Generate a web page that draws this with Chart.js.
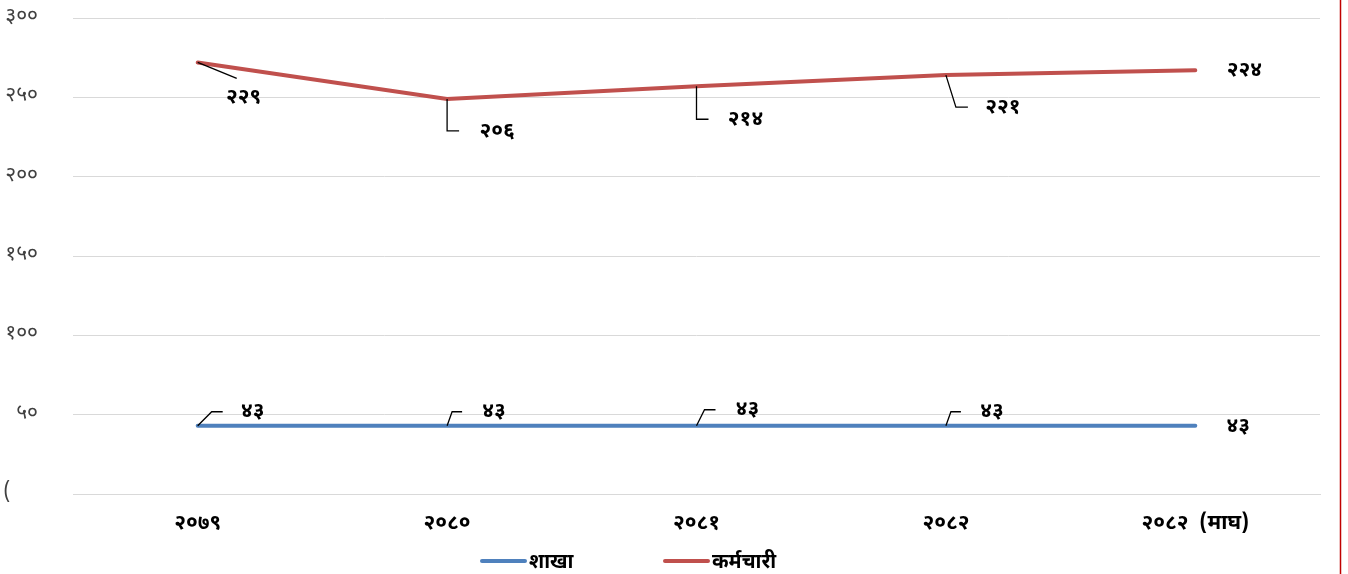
<!DOCTYPE html>
<html>
<head>
<meta charset="utf-8">
<script src="https://cdn.jsdelivr.net/npm/chart.js@4.4.1/dist/chart.umd.min.js"></script>
<style>
  html, body { margin: 0; padding: 0; background: #ffffff; }
  #wrap { width: 1348px; height: 574px; position: relative; }
</style>
</head>
<body>
<div id="wrap"><canvas id="chart" width="1348" height="574"></canvas></div>
<script>
// Fiscal years
const categories = ['२०७९', '२०८०', '२०८१', '२०८२', '२०८२  (माघ)'];
// Number of branches
const branches = [43, 43, 43, 43, 43];
// Number of staff
const staff = [229, 206, 214, 221, 224];
// Value-axis tick labels (0..300 step 50)
const yTickValues = [0, 50, 100, 150, 200, 250, 300];
const yTickLabels = ['(', '५०', '१००', '१५०', '२००', '२५०', '३००'];
const seriesNames = ['शाखा', 'कर्मचारी'];

const BLUE = '#4f81bd';
const RED = '#c0504d';
const DEVA = "'Noto Sans Devanagari', 'Lohit Devanagari', 'Noto Sans', sans-serif";

function toDeva(n) {
  const d = '०१२३४५६७८९';
  return String(n).replace(/[0-9]/g, c => d[+c]);
}

// Label placement and leader paths, relative to each point (px)
const labelLayout = [
  [ // शाखा
    { dx: 55, dy: -13, path: [[0, 0], [14, -14], [25, -14]] },
    { dx: 47, dy: -13, path: [[0, 0], [5, -14], [15, -14]] },
    { dx: 51, dy: -15, path: [[0, 0], [8, -16], [19, -16]] },
    { dx: 46, dy: -13, path: [[0, 0], [5, -14], [15, -14]] },
    { dx: 43, dy: 2, path: null }
  ],
  [ // कर्मचारी
    { dx: 46, dy: 37, path: [[0, 0], [39, 16]] },
    { dx: 50, dy: 34, path: [[0, 0], [0, 32], [12, 32]] },
    { dx: 49, dy: 35, path: [[0, 0], [0, 33], [12, 33]] },
    { dx: 57, dy: 34, path: [[0, 0], [10, 32], [22, 32]] },
    { dx: 49, dy: 2, path: null }
  ]
];

const valueLabels = {
  id: 'valueLabels',
  afterDatasetsDraw(chart) {
    const ctx = chart.ctx;
    ctx.save();
    chart.data.datasets.forEach((ds, di) => {
      const meta = chart.getDatasetMeta(di);
      meta.data.forEach((pt, i) => {
        const lay = labelLayout[di][i];
        if (lay.path) {
          ctx.beginPath();
          ctx.strokeStyle = '#000000';
          ctx.lineWidth = 1.3;
          lay.path.forEach(([px, py], k) => {
            if (k === 0) ctx.moveTo(pt.x + px, pt.y + py);
            else ctx.lineTo(pt.x + px, pt.y + py);
          });
          ctx.stroke();
        }
        ctx.fillStyle = '#000000';
        ctx.font = "bold 21px " + DEVA;
        ctx.textAlign = 'center';
        ctx.textBaseline = 'middle';
        ctx.fillText(toDeva(ds.data[i]), pt.x + lay.dx, pt.y + lay.dy);
      });
    });
    ctx.restore();
  }
};

// Legend drawn beneath the plot
const bottomLegend = {
  id: 'bottomLegend',
  afterDraw(chart) {
    const ctx = chart.ctx;
    const y = 561;
    const items = [
      { x: 482, color: BLUE, text: seriesNames[0] },
      { x: 665, color: RED, text: seriesNames[1] }
    ];
    ctx.save();
    items.forEach(it => {
      ctx.beginPath();
      ctx.strokeStyle = it.color;
      ctx.lineWidth = 4;
      ctx.lineCap = 'round';
      ctx.moveTo(it.x, y);
      ctx.lineTo(it.x + 43, y);
      ctx.stroke();
      ctx.fillStyle = '#000000';
      ctx.font = "bold 20px " + DEVA;
      ctx.textAlign = 'left';
      ctx.textBaseline = 'middle';
      ctx.fillText(it.text, it.x + 47, y + 3);
    });
    // frame edge on the right
    ctx.beginPath();
    ctx.strokeStyle = '#c00000';
    ctx.lineWidth = 1.5;
    ctx.moveTo(1340.5, 0);
    ctx.lineTo(1340.5, 574);
    ctx.stroke();
    ctx.restore();
  }
};

new Chart(document.getElementById('chart'), {
  type: 'line',
  data: {
    labels: categories,
    datasets: [
      { label: seriesNames[0], data: branches, borderColor: BLUE, backgroundColor: BLUE,
        borderWidth: 4, pointRadius: 0, fill: false, tension: 0, borderCapStyle: 'round' },
      { label: seriesNames[1], data: staff, borderColor: RED, backgroundColor: RED,
        borderWidth: 4, pointRadius: 0, fill: false, tension: 0, borderCapStyle: 'round' }
    ]
  },
  options: {
    responsive: false,
    animation: false,
    layout: { padding: { top: 18, right: 28, bottom: 40, left: 0 } },
    plugins: { legend: { display: false }, tooltip: { enabled: false } },
    scales: {
      x: {
        offset: true,
        grid: { display: false },
        border: { display: true, color: '#d9d9d9' },
        ticks: { color: '#000000', font: { family: DEVA, size: 21, weight: 'bold' }, padding: 10, maxRotation: 0 },
        afterFit(s) { s.height = 40; }
      },
      y: {
        stacked: true,
        min: 0, max: 300,
        afterBuildTicks(s) { s.ticks = yTickValues.map(v => ({ value: v })); },
        grid: { color: '#d9d9d9', lineWidth: 1, drawTicks: false },
        border: { display: false },
        ticks: {
          color: '#404040',
          font: { family: DEVA, size: 21, weight: 'normal' },
          padding: 35,
          callback: (v) => {
            const i = yTickValues.indexOf(v);
            return i === 0 ? yTickLabels[0] + '     ' : yTickLabels[i];
          }
        },
        afterFit(s) {
          s.width = 73;
          s.paddingTop = 10;
          s.paddingBottom = 10;
        }
      }
    }
  },
  plugins: [valueLabels, bottomLegend]
});
</script>
</body>
</html>
